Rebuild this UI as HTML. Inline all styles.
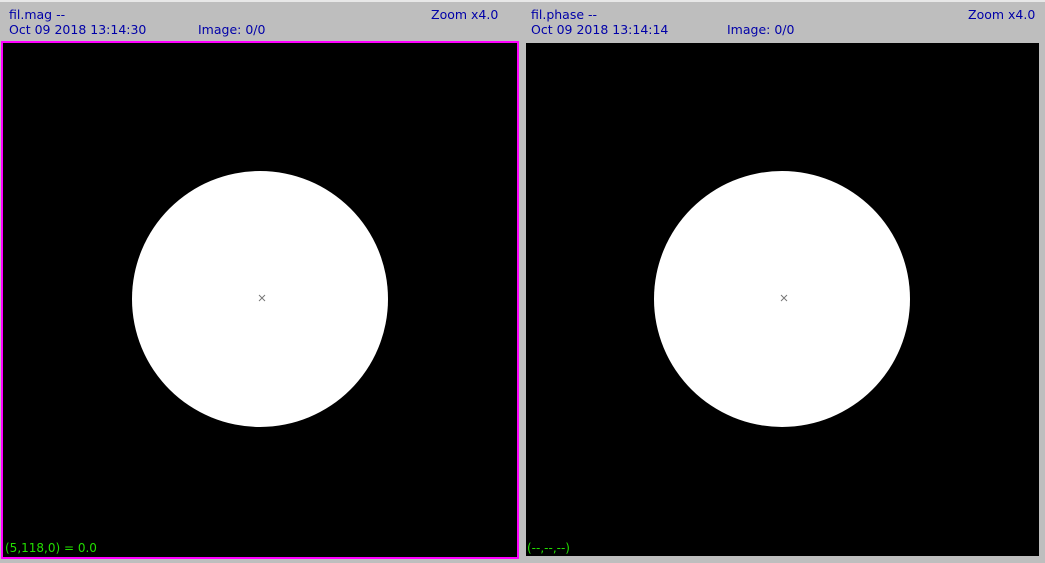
<!DOCTYPE html>
<html><head><meta charset="utf-8"><style>
body{margin:0;width:1045px;height:563px;background:#bebebe;position:relative;overflow:hidden;font-family:"DejaVu Sans","Liberation Sans",sans-serif;}
.t{position:absolute;color:#0000a8;font-size:12.5px;line-height:14px;white-space:nowrap}
.g{position:absolute;color:#22dd00;font-size:12px;white-space:nowrap}
</style></head><body>
<div style="position:absolute;left:0;top:0;width:1045px;height:2px;background:#e8e8e8"></div>
<div class="t" style="left:9px;top:8px">fil.mag --</div>
<div class="t" style="left:9px;top:23px">Oct 09 2018 13:14:30</div>
<div class="t" style="left:198px;top:23px">Image: 0/0</div>
<div class="t" style="left:431px;top:8px">Zoom x4.0</div>
<div class="t" style="left:531px;top:8px">fil.phase --</div>
<div class="t" style="left:531px;top:23px">Oct 09 2018 13:14:14</div>
<div class="t" style="left:727px;top:23px">Image: 0/0</div>
<div class="t" style="left:968px;top:8px">Zoom x4.0</div>
<div style="position:absolute;left:1px;top:41px;width:514px;height:514px;border:2px solid #ff00ff;background:#000"></div>
<div style="position:absolute;left:526px;top:43px;width:513px;height:513px;background:#000"></div>
<svg width="1045" height="563" style="position:absolute;left:0;top:0">
<circle cx="260" cy="299" r="128" fill="#fff"/>
<circle cx="782" cy="299" r="128" fill="#fff"/>
<g stroke="#777" stroke-width="1">
<path d="M259 295l6 6M265 295l-6 6"/>
<path d="M781 295l6 6M787 295l-6 6"/>
</g></svg>
<div class="g" style="left:5px;top:541px">(5,118,0) = 0.0</div>
<div class="g" style="left:527px;top:541px">(--,--,--)</div>
</body></html>
